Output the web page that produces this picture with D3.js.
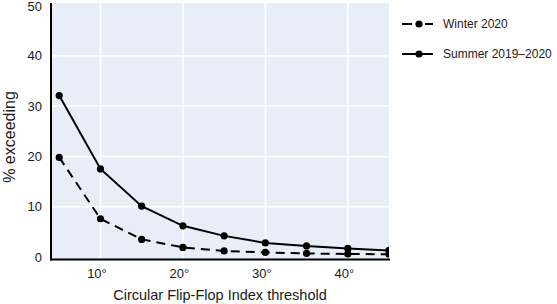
<!DOCTYPE html>
<html>
<head>
<meta charset="utf-8">
<script src="https://cdn.jsdelivr.net/npm/d3@7"></script>
<style>
  body { margin: 0; background: #ffffff; }
  text { font-family: "Liberation Sans", Arial, sans-serif; fill: #1a1a1a; }
</style>
</head>
<body>
<svg id="chart" width="557" height="304"></svg>
<script>
const thresholds = [5, 10, 15, 20, 25, 30, 35, 40, 45];
const summer = [32.1, 17.5, 10.1, 6.2, 4.2, 2.8, 2.2, 1.7, 1.3];
const winter = [19.8, 7.6, 3.5, 1.9, 1.2, 0.9, 0.7, 0.6, 0.55];
const xTicks = [10, 20, 30, 40];
const yTicks = [0, 10, 20, 30, 40, 50];
const seriesNames = ['Winter 2020', 'Summer 2019\u20132020'];

const svg = d3.select('#chart');
const area = { left: 51, right: 389, top: 3, bottom: 259.5 };

const x = d3.scaleLinear().domain([4, 45]).range([area.left, area.right]);
const y = d3.scaleLinear().domain([-0.5, 50.5]).range([area.bottom, area.top]);

svg.append('defs').append('clipPath')
  .attr('id', 'plotclip')
  .append('rect')
  .attr('x', area.left)
  .attr('y', area.top)
  .attr('width', area.right - area.left)
  .attr('height', area.bottom - area.top);

// background
svg.append('rect')
  .attr('x', area.left)
  .attr('y', area.top)
  .attr('width', area.right - area.left)
  .attr('height', area.bottom - area.top)
  .style('fill', '#e8eef8');

// grid
svg.append('g')
  .selectAll('line')
  .data(xTicks)
  .join('line')
  .attr('x1', d => x(d)).attr('x2', d => x(d))
  .attr('y1', area.top).attr('y2', area.bottom)
  .attr('stroke', '#ffffff')
  .attr('stroke-width', 1.5);
svg.append('g')
  .selectAll('line')
  .data(yTicks.filter(d => d > 0 && d < 50))
  .join('line')
  .attr('x1', area.left).attr('x2', area.right)
  .attr('y1', d => y(d)).attr('y2', d => y(d))
  .attr('stroke', '#ffffff')
  .attr('stroke-width', 1.5);

// axes
const xAxis = svg.append('g')
  .attr('transform', `translate(0,${area.bottom})`)
  .call(d3.axisBottom(x).tickValues(xTicks).tickSize(0).tickPadding(9).tickFormat(d => d + '\u00b0'));
xAxis.select('.domain').remove();
xAxis.selectAll('text')
  .attr('dx', '-4')
  .style('font-size', '13px')
  .style('font-family', '"Liberation Sans", Arial, sans-serif');

const yAxis = svg.append('g')
  .attr('transform', `translate(${area.left},0)`)
  .call(d3.axisLeft(y).tickValues(yTicks).tickSize(0).tickPadding(9));
yAxis.select('.domain').remove();
yAxis.selectAll('text')
  .attr('dy', d => d === 50 ? '0.42em' : '0.32em')
  .style('font-size', '13px')
  .style('font-family', '"Liberation Sans", Arial, sans-serif');

svg.append('line')
  .attr('x1', area.left).attr('x2', area.left)
  .attr('y1', area.top).attr('y2', area.bottom + 1)
  .attr('stroke', '#000').attr('stroke-width', 2);
svg.append('line')
  .attr('x1', area.left - 1).attr('x2', area.right + 1)
  .attr('y1', area.bottom).attr('y2', area.bottom)
  .attr('stroke', '#000').attr('stroke-width', 2);

// axis titles
svg.append('text')
  .attr('x', 220)
  .attr('y', 300)
  .style('text-anchor', 'middle')
  .style('font-size', '14.5px')
  .text('Circular Flip-Flop Index threshold');
svg.append('text')
  .attr('transform', 'rotate(-90)')
  .attr('x', -137)
  .attr('y', 15)
  .style('text-anchor', 'middle')
  .style('font-size', '16px')
  .text('% exceeding');

// series
const series = [
  { name: seriesNames[0], values: winter, dash: '9,6' },
  { name: seriesNames[1], values: summer, dash: null }
];
const line = d3.line()
  .x((d, i) => x(thresholds[i]))
  .y(d => y(d));

const plot = svg.append('g').attr('clip-path', 'url(#plotclip)');
for (const s of series) {
  plot.append('path')
    .datum(s.values)
    .attr('fill', 'none')
    .attr('stroke', '#000')
    .attr('stroke-width', 2)
    .attr('stroke-dasharray', s.dash)
    .attr('d', line);
  plot.selectAll(null)
    .data(s.values)
    .join('circle')
    .attr('cx', (d, i) => x(thresholds[i]))
    .attr('cy', d => y(d))
    .attr('r', 3.6)
    .attr('fill', '#000');
}

// legend
const legend = svg.append('g');
series.forEach((s, i) => {
  const ly = 24 + i * 30;
  legend.append('line')
    .attr('x1', 402).attr('x2', 433)
    .attr('y1', ly).attr('y2', ly)
    .attr('stroke', '#000')
    .attr('stroke-width', 2)
    .attr('stroke-dasharray', s.dash ? '10,13,8' : null);
  legend.append('circle')
    .attr('cx', 419).attr('cy', ly).attr('r', 3.6).attr('fill', '#000');
  legend.append('text')
    .attr('x', 443).attr('y', ly)
    .attr('dy', '0.35em')
    .style('font-size', '12px')
    .text(s.name);
});
</script>
</body>
</html>
